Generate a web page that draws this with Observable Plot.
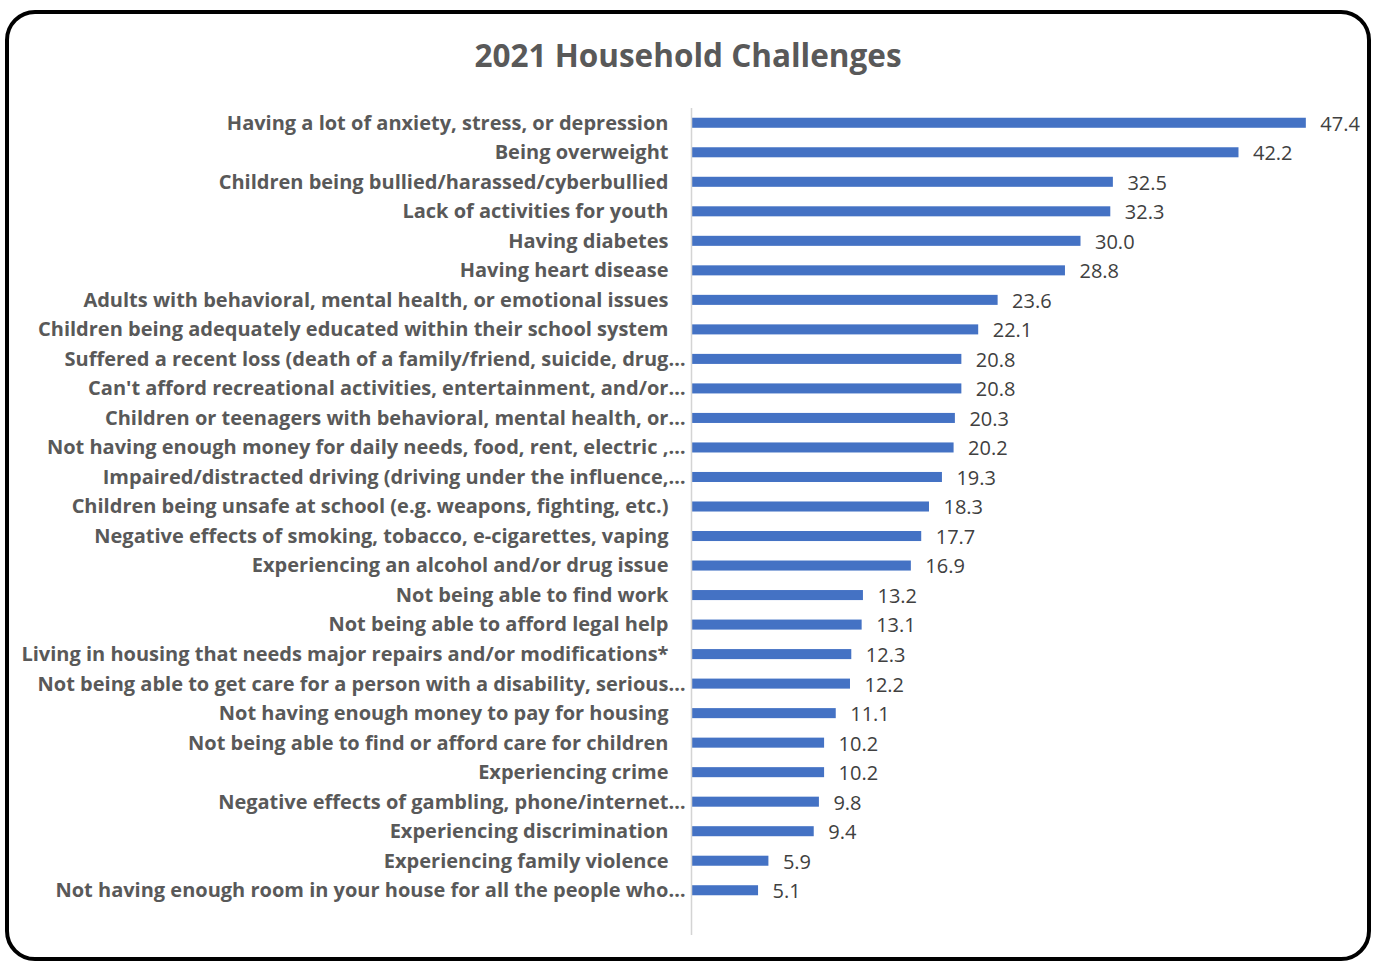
<!DOCTYPE html>
<html>
<head>
<meta charset="utf-8">
<script src="https://cdn.jsdelivr.net/npm/d3@7"></script>
<script src="https://cdn.jsdelivr.net/npm/@observablehq/plot@0.6"></script>
<style>
  html, body { margin: 0; padding: 0; background: #fff; }
  #page { position: relative; width: 1374px; height: 961px; overflow: hidden; }
  #box { position: absolute; left: 5px; top: 10px; width: 1358px; height: 943px;
         border: 4px solid #000; border-radius: 30px; }
  #title { position: absolute; left: 0; top: 33px; width: 1376px; text-align: center;
           font-family: "Open Sans", sans-serif; font-weight: bold; font-size: 31.5px; color: #595959; }
  #chart { position: absolute; left: 0; top: 0; }
</style>
</head>
<body>
<div id="page">
  <div id="box"></div>
  <div id="title">2021 Household Challenges</div>
  <div id="chart"></div>
</div>
<script>
const categories = [
  "Having a lot of anxiety, stress, or depression",
  "Being overweight",
  "Children being bullied/harassed/cyberbullied",
  "Lack of activities for youth",
  "Having diabetes",
  "Having heart disease",
  "Adults with behavioral, mental health, or emotional issues",
  "Children being adequately educated within their school system",
  "Suffered a recent loss (death of a family/friend, suicide, drug…",
  "Can't afford recreational activities, entertainment, and/or…",
  "Children or teenagers with behavioral, mental health, or…",
  "Not having enough money for daily needs, food, rent, electric ,…",
  "Impaired/distracted driving (driving under the influence,…",
  "Children being unsafe at school (e.g. weapons, fighting, etc.)",
  "Negative effects of smoking, tobacco, e-cigarettes, vaping",
  "Experiencing an alcohol and/or drug issue",
  "Not being able to find work",
  "Not being able to afford legal help",
  "Living in housing that needs major repairs and/or modifications*",
  "Not being able to get care for a person with a disability, serious…",
  "Not having enough money to pay for housing",
  "Not being able to find or afford care for children",
  "Experiencing crime",
  "Negative effects of gambling, phone/internet…",
  "Experiencing discrimination",
  "Experiencing family violence",
  "Not having enough room in your house for all the people who…"
];
const values = [47.4, 42.2, 32.5, 32.3, 30.0, 28.8, 23.6, 22.1, 20.8, 20.8, 20.3, 20.2, 19.3,
  18.3, 17.7, 16.9, 13.2, 13.1, 12.3, 12.2, 11.1, 10.2, 10.2, 9.8, 9.4, 5.9, 5.1];

const data = categories.map((c, i) => ({category: c, value: values[i]}));
const full = data.filter(d => !d.category.endsWith("…"));
const truncated = data.filter(d => d.category.endsWith("…"));

const font = "'Open Sans', sans-serif";

const chart = Plot.plot({
  width: 1374,
  height: 961,
  marginTop: 108,
  marginBottom: 26,
  marginLeft: 692,
  marginRight: 35,
  style: {fontFamily: font, background: "transparent"},
  x: {domain: [0, 50], range: [692, 692 + 50 * 12.95], axis: null},
  y: {domain: categories, range: [108, 905], paddingInner: 0.66, paddingOuter: 0.33, round: false, axis: null},
  marks: [
    Plot.barX(data, {x: "value", y: "category", fill: "#4472C4"}),
    Plot.ruleX([0], {dx: -1, stroke: "#d4d4d4", strokeWidth: 1.5}),
    Plot.text(data, {x: "value", y: "category", text: d => d.value.toFixed(1), dx: 14, dy: 1,
      textAnchor: "start", fontSize: 20, fill: "#404040"}),
    Plot.text(full, {x: 0, y: "category", text: "category", dx: -24, dy: 0,
      textAnchor: "end", fontSize: 20, fontWeight: "bold", fill: "#595959"}),
    Plot.text(truncated, {x: 0, y: "category", text: "category", dx: -7, dy: 0,
      textAnchor: "end", fontSize: 20, fontWeight: "bold", fill: "#595959"})
  ]
});
document.getElementById("chart").appendChild(chart);
</script>
</body>
</html>
